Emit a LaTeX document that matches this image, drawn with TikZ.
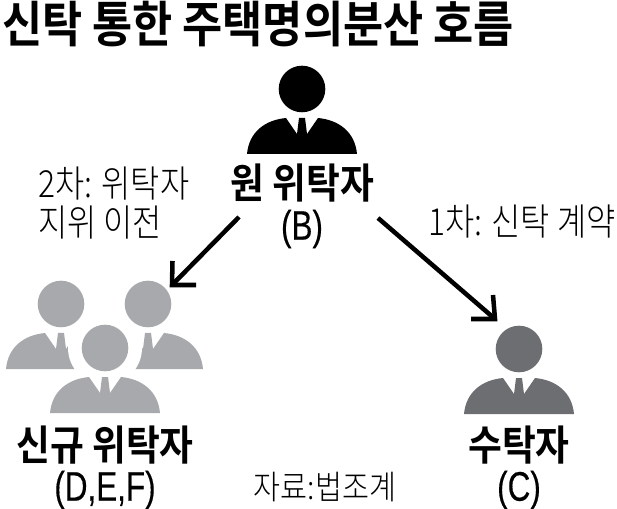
\documentclass[tikz,border=0pt]{standalone}
\usepackage{fontspec}
\setmainfont{Liberation Sans}
\newfontfamily\lat[FakeBold=0.4]{Liberation Sans}
\newfontfamily\kr{Noto Sans CJK KR Light}
\newfontfamily\krb{Noto Sans CJK KR Bold}
\definecolor{pblack}{HTML}{000000}
\definecolor{pgray}{HTML}{A7A9AC}
\definecolor{pdark}{HTML}{6D6E71}
\tikzset{
  person/.pic={
    \fill (0,0) circle (23.3);
    \fill (-55,65) .. controls (-53,43) and (-37,31) .. (-16,29) -- (-5,45) -- (-3,29) -- (3,29) -- (5,45) -- (16,29) .. controls (37,31) and (53,43) .. (55,65) -- cycle;
  },
  title/.style={inner sep=0,font=\krb\fontsize{37}{37}\selectfont,xscale=.885,transform shape},
  heading/.style={inner sep=0,font=\krb\fontsize{31}{31}\selectfont,xscale=.89,transform shape},
  letters/.style={inner sep=0,font=\lat\fontsize{31}{31}\selectfont,xscale=.76,transform shape},
  note/.style={inner sep=0,font=\kr\fontsize{28}{28}\selectfont,xscale=.85,transform shape,anchor=west},
  source/.style={inner sep=0,font=\kr\fontsize{25}{25}\selectfont,xscale=.88,transform shape},
  flow/.style={line width=3.4pt,miter limit=10}
}
\begin{document}
\begin{tikzpicture}[x=0.75pt,y=-0.75pt]
\useasboundingbox (0,0) rectangle (617,509);
\fill[white] (0,0) rectangle (617,509);
\node[title] (ttl) at (258,24) {신탁 통한 주택명의분산 호름};
\pic[pblack] at (302,89) {person};
\node[heading] (src) at (302,183) {원 위탁자};
\node[letters] (srcb) at (302,229) {(B)};
\node[note] (n2a) at (38,184) {2차: 위탁자};
\node[note] (n2b) at (38,223) {지위 이전};
\node[note] (n1) at (428,222) {1차: 신탁 계약};
\coordinate (a1) at (239,217);
\coordinate (a2) at (172,285);
\coordinate (b1) at (378,218);
\coordinate (b2) at (495,319);
\draw[flow] (a1) -- (a2);
\draw[flow] (172.5,261) -- (172,285) -- (196,285);
\draw[flow] (b1) -- (b2);
\draw[flow] (493,295) -- (495,319) -- (471,319);
\pic[pgray] at (61,304) {person};
\pic[pgray] at (148,304) {person};
\fill[white] (105,348) circle (37);
\pic[pgray] at (105,348) {person};
\pic[pdark] at (519,349) {person};
\node[heading] (nw) at (105,445) {신규 위탁자};
\node[letters] (nwl) at (105,490) {(D,E,F)};
\node[heading] (tr) at (519,445) {수탁자};
\node[letters] (trl) at (519,490) {(C)};
\node[source] (s) at (325,487) {자료:법조계};
\end{tikzpicture}
\end{document}
